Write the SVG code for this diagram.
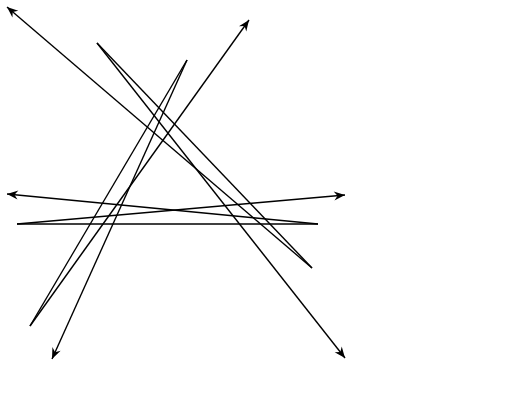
<svg xmlns="http://www.w3.org/2000/svg" width="505" height="410" viewBox="0 0 505 410">
<style>
.ln{stroke:#000;stroke-width:1.4;fill:none}
.ar{marker-end:url(#ah)}
.lbl{font-family:"Liberation Serif",serif;font-size:16px;fill:#000;text-anchor:middle}
</style>
<defs>
<marker id="ah" markerUnits="userSpaceOnUse" markerWidth="14" markerHeight="12" viewBox="-12 -6 14 12" refX="0" refY="0" orient="auto">
<path d="M0,0 L-11,-4.5 L-7.5,0 L-11,4.5 z" fill="#000"/>
</marker>
</defs>
<rect width="505" height="410" fill="#fff"/>
<g id="connectors">
<line class="ln" x1="17" y1="224" x2="318" y2="224"/>
<line class="ln ar" x1="318" y1="224" x2="7" y2="194"/>
<line class="ln ar" x1="17" y1="224" x2="345" y2="195"/>
<line class="ln" x1="187" y1="60" x2="30" y2="326"/>
<line class="ln ar" x1="30" y1="326" x2="249" y2="20"/>
<line class="ln ar" x1="187" y1="60" x2="52" y2="359"/>
<line class="ln" x1="97" y1="43" x2="312" y2="268"/>
<line class="ln ar" x1="312" y1="268" x2="7" y2="7"/>
<line class="ln ar" x1="97" y1="43" x2="345" y2="358"/>
</g>
<g id="label-a"><text class="lbl" x="259" y="421.5">(a)</text></g>
<g id="label-b"><text class="lbl" x="490" y="421.5">(b)</text></g>
</svg>
